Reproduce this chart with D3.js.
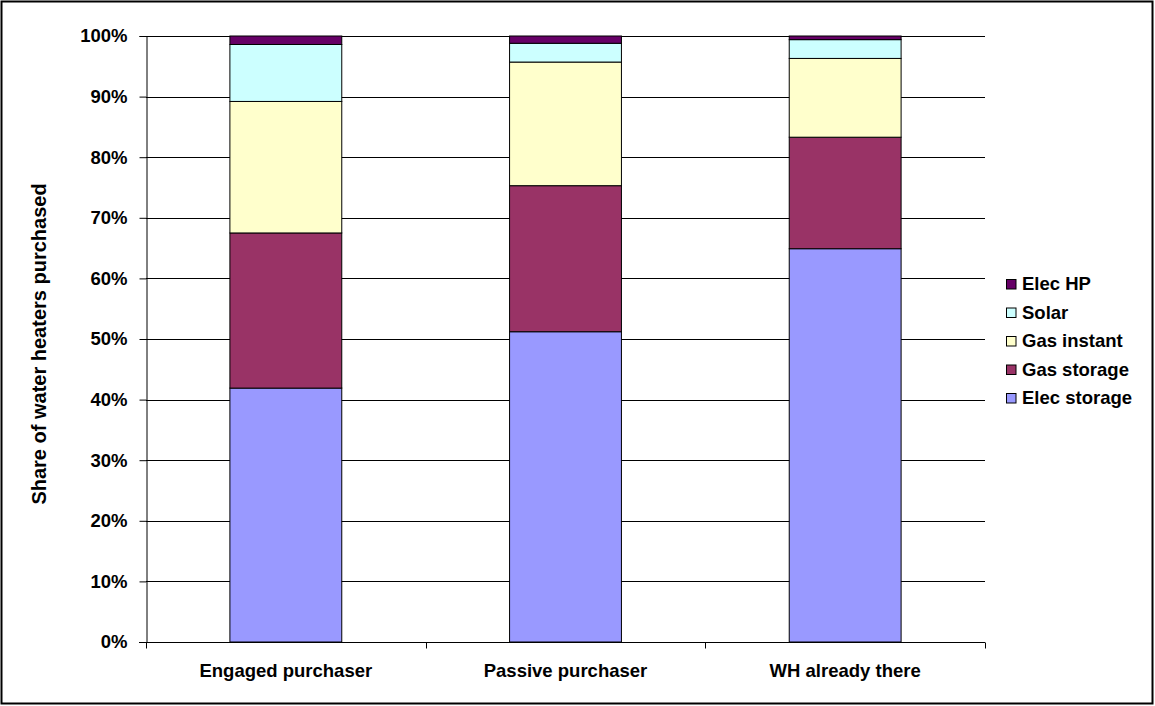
<!DOCTYPE html>
<html>
<head>
<meta charset="utf-8">
<script src="https://cdn.jsdelivr.net/npm/d3@7"></script>
<style>
  html, body { margin: 0; padding: 0; background: #fff; }
  svg { display: block; font-family: "Liberation Sans", Arial, sans-serif; }
</style>
</head>
<body>
<svg id="chart" width="1155" height="706"></svg>
<script>
// Purchase situations along the x axis
const categories = ["Engaged purchaser", "Passive purchaser", "WH already there"];

// Water heater types, stacked bottom to top
const seriesNames = ["Elec storage", "Gas storage", "Gas instant", "Solar", "Elec HP"];

// Share of heaters purchased (%) per type, one value per category
const elecStorage = [41.9, 51.2, 64.9];
const gasStorage  = [25.6, 24.1, 18.4];
const gasInstant  = [21.7, 20.4, 13.0];
const solar       = [9.4, 3.1, 3.1];
const elecHP      = [1.4, 1.2, 0.6];

const yTicks = [0, 10, 20, 30, 40, 50, 60, 70, 80, 90, 100];
const colors = ["#9999FF", "#993366", "#FFFFCC", "#CCFFFF", "#660066"];

const seriesValues = [elecStorage, gasStorage, gasInstant, solar, elecHP];
const rows = categories.map((c, i) => {
  const r = { category: c };
  seriesNames.forEach((s, k) => { r[s] = seriesValues[k][i]; });
  return r;
});
const stacked = d3.stack().keys(seriesNames)(rows);

const svg = d3.select("#chart");
const labelSize = 18.5;

// Outer frame
svg.append("rect")
  .attr("x", 1.5).attr("y", 1.5)
  .attr("width", 1151).attr("height", 702)
  .attr("fill", "#fff").attr("stroke", "#000").attr("stroke-width", 2);

const plot = { left: 146, right: 985, top: 36, bottom: 642 };

const x = d3.scaleBand()
  .domain(categories)
  .range([plot.left, plot.right])
  .paddingInner(0)
  .paddingOuter(0);

const y = d3.scaleLinear().domain([0, 100]).range([plot.bottom, plot.top]);

// Horizontal gridlines
svg.append("g")
  .selectAll("line")
  .data(yTicks.filter(t => t > 0))
  .join("line")
  .attr("x1", plot.left).attr("x2", plot.right)
  .attr("y1", d => Math.round(y(d)) + 0.5).attr("y2", d => Math.round(y(d)) + 0.5)
  .attr("stroke", "#000").attr("stroke-width", 1);

// Stacked bars
const barW = x.bandwidth() * 0.4;
svg.append("g")
  .selectAll("g")
  .data(stacked)
  .join("g")
  .attr("fill", (d, i) => colors[i])
  .selectAll("rect")
  .data(d => d)
  .join("rect")
  .attr("x", d => x(d.data.category) + (x.bandwidth() - barW) / 2)
  .attr("y", d => y(d[1]))
  .attr("width", barW)
  .attr("height", d => y(d[0]) - y(d[1]))
  .attr("stroke", "#000")
  .attr("stroke-width", 1);

// Y axis
const yAxis = d3.axisLeft(y)
  .tickValues(yTicks)
  .tickFormat(d => d + "%")
  .tickSize(7)
  .tickPadding(12);
const gy = svg.append("g")
  .attr("transform", `translate(${plot.left + 0.5},0)`)
  .call(yAxis);
gy.select(".domain").attr("stroke", "#000");
gy.selectAll(".tick line").attr("stroke", "#000");
gy.selectAll(".tick text")
  .attr("font-family", "Liberation Sans, Arial, sans-serif")
  .attr("font-size", labelSize).attr("font-weight", "bold").attr("fill", "#000");

// X axis with tick marks at category boundaries
const gx = svg.append("g")
  .attr("transform", `translate(0,${plot.bottom + 0.5})`);
gx.append("line")
  .attr("x1", plot.left - 7).attr("x2", plot.right)
  .attr("stroke", "#000");
const bounds = categories.map(c => x(c)).concat([plot.right]);
gx.selectAll("line.tk")
  .data(bounds)
  .join("line")
  .attr("class", "tk")
  .attr("x1", d => Math.round(d) + 0.5).attr("x2", d => Math.round(d) + 0.5)
  .attr("y1", 0).attr("y2", 6)
  .attr("stroke", "#000");
gx.selectAll("text")
  .data(categories)
  .join("text")
  .attr("x", d => x(d) + x.bandwidth() / 2)
  .attr("y", 34)
  .attr("text-anchor", "middle")
  .attr("font-size", labelSize).attr("font-weight", "bold").attr("fill", "#000")
  .text(d => d);

// Y axis title
svg.append("text")
  .attr("transform", `translate(46,344) rotate(-90)`)
  .attr("text-anchor", "middle")
  .attr("font-size", 20).attr("font-weight", "bold").attr("fill", "#000")
  .text("Share of water heaters purchased");

// Legend, top entry is the top of the stack
const legendItems = seriesNames.map((s, i) => ({ name: s, color: colors[i] })).reverse();
const legend = svg.append("g").attr("transform", "translate(1006,279)");
const li = legend.selectAll("g")
  .data(legendItems)
  .join("g")
  .attr("transform", (d, i) => `translate(0,${i * 28.5})`);
li.append("rect")
  .attr("x", 0.5).attr("y", 0.5)
  .attr("width", 9.5).attr("height", 9.5)
  .attr("fill", d => d.color)
  .attr("stroke", "#000").attr("stroke-width", 1);
li.append("text")
  .attr("x", 16).attr("y", 11)
  .attr("font-size", labelSize).attr("font-weight", "bold").attr("fill", "#000")
  .text(d => d.name);
</script>
</body>
</html>
